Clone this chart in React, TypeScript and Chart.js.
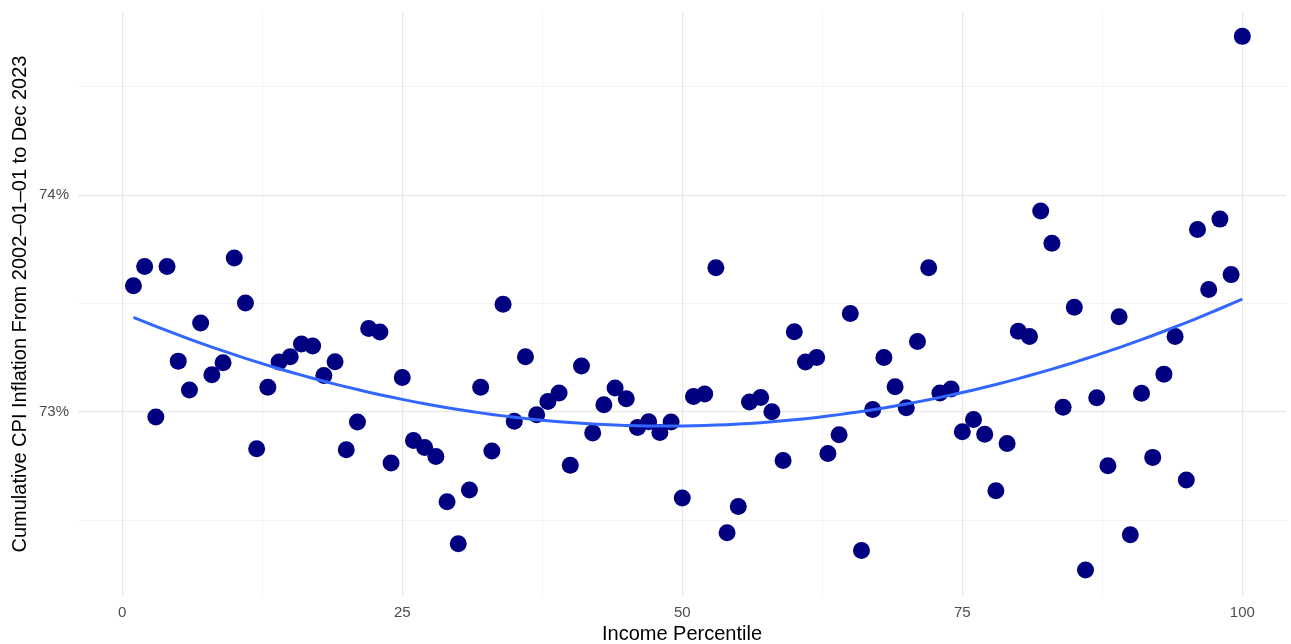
import React, { useEffect, useRef } from "react";
import { Chart, registerables } from "chart.js";

Chart.register(...registerables);

// Income percentiles (x) and cumulative CPI inflation in % (y)
const percentiles: number[] = [
  1, 2, 3, 4, 5, 6, 7, 8, 9, 10,
  11, 12, 13, 14, 15, 16, 17, 18, 19, 20,
  21, 22, 23, 24, 25, 26, 27, 28, 29, 30,
  31, 32, 33, 34, 35, 36, 37, 38, 39, 40,
  41, 42, 43, 44, 45, 46, 47, 48, 49, 50,
  51, 52, 53, 54, 55, 56, 57, 58, 59, 60,
  61, 62, 63, 64, 65, 66, 67, 68, 69, 70,
  71, 72, 73, 74, 75, 76, 77, 78, 79, 80,
  81, 82, 83, 84, 85, 86, 87, 88, 89, 90,
  91, 92, 93, 94, 95, 96, 97, 98, 99, 100,
];

const cumulativeInflation: number[] = [
  73.583, 73.671, 72.977, 73.671, 73.235, 73.102, 73.411, 73.172, 73.228, 73.711,
  73.503, 72.831, 73.114, 73.231, 73.255, 73.314, 73.305, 73.169, 73.232, 72.826,
  72.954, 73.386, 73.369, 72.765, 73.160, 72.869, 72.837, 72.795, 72.586, 72.393,
  72.641, 73.114, 72.820, 73.497, 72.958, 73.255, 72.988, 73.049, 73.088, 72.755,
  73.212, 72.904, 73.034, 73.111, 73.061, 72.929, 72.955, 72.906, 72.954, 72.604,
  73.072, 73.083, 73.666, 72.443, 72.564, 73.046, 73.067, 73.001, 72.777, 73.371,
  73.231, 73.252, 72.809, 72.895, 73.455, 72.361, 73.012, 73.252, 73.117, 73.020,
  73.325, 73.666, 73.088, 73.106, 72.909, 72.966, 72.898, 72.637, 72.855, 73.373,
  73.349, 73.927, 73.779, 73.022, 73.483, 72.272, 73.066, 72.752, 73.440, 72.434,
  73.087, 72.791, 73.175, 73.349, 72.687, 73.842, 73.565, 73.890, 73.634, 74.733,
];

const xTickValues: number[] = [0, 12.5, 25, 37.5, 50, 62.5, 75, 87.5, 100];
const xTickLabels: string[] = ["0", "", "25", "", "50", "", "75", "", "100"];
const yTickValues: number[] = [72.5, 73, 73.5, 74, 74.5];
const yTickLabels: string[] = ["", "73%", "", "74%", ""];

const xTitle = "Income Percentile";
const yTitle = "Cumulative CPI Inflation From 2002\u201301\u201301 to Dec 2023";

// Quadratic least-squares fit (the smoothing layer), derived from the data
function quadraticFit(xs: number[], ys: number[]) {
  let s0 = 0, s1 = 0, s2 = 0, s3 = 0, s4 = 0, t0 = 0, t1 = 0, t2 = 0;
  for (let i = 0; i < xs.length; i++) {
    const x = xs[i], y = ys[i];
    s0 += 1; s1 += x; s2 += x * x; s3 += x * x * x; s4 += x * x * x * x;
    t0 += y; t1 += x * y; t2 += x * x * y;
  }
  const A = [
    [s0, s1, s2, t0],
    [s1, s2, s3, t1],
    [s2, s3, s4, t2],
  ];
  for (let c = 0; c < 3; c++) {
    let p = c;
    for (let r = c + 1; r < 3; r++) if (Math.abs(A[r][c]) > Math.abs(A[p][c])) p = r;
    [A[c], A[p]] = [A[p], A[c]];
    for (let r = 0; r < 3; r++) {
      if (r === c) continue;
      const f = A[r][c] / A[c][c];
      for (let k = c; k < 4; k++) A[r][k] -= f * A[c][k];
    }
  }
  const c0 = A[0][3] / A[0][0];
  const c1 = A[1][3] / A[1][1];
  const c2 = A[2][3] / A[2][2];
  return (x: number) => c0 + c1 * x + c2 * x * x;
}

const FONT = "'Liberation Sans', Arial, Helvetica, sans-serif";

export default function App() {
  const canvasRef = useRef<HTMLCanvasElement | null>(null);

  useEffect(() => {
    if (!canvasRef.current) return;
    document.body.style.margin = "0";
    const fit = quadraticFit(percentiles, cumulativeInflation);
    const fitPoints = percentiles.map((x) => ({ x, y: fit(x) }));
    const scatterPoints = percentiles.map((x, i) => ({ x, y: cumulativeInflation[i] }));

    const chart = new Chart(canvasRef.current, {
      type: "scatter",
      data: {
        datasets: [
          {
            label: "fit",
            data: fitPoints,
            showLine: true,
            borderColor: "#3366FF",
            borderWidth: 3,
            pointRadius: 0,
            pointHoverRadius: 0,
            fill: false,
            tension: 0,
          } as any,
          {
            label: "points",
            data: scatterPoints,
            backgroundColor: "#000080",
            borderWidth: 0,
            pointRadius: 8.5,
            pointHoverRadius: 8.5,
          },
        ],
      },
      options: {
        animation: false,
        responsive: false,
        devicePixelRatio: 1,
        layout: { autoPadding: false, padding: { left: 0, right: 5, top: 11, bottom: 0 } },
        plugins: {
          legend: { display: false },
          tooltip: { enabled: false },
        },
        scales: {
          x: {
            type: "linear",
            min: -3.95,
            max: 103.9,
            afterBuildTicks: (scale: any) => {
              scale.ticks = xTickValues.map((v) => ({ value: v }));
            },
            afterFit: (scale: any) => {
              scale.height = 47;
              scale.paddingLeft = 0;
              scale.paddingRight = 0;
              scale.paddingTop = 0;
              scale.paddingBottom = 0;
            },
            border: { display: false },
            grid: {
              drawTicks: false,
              color: (ctx: any) =>
                ctx.tick && ctx.tick.value % 25 === 0 ? "#E8E8E8" : "#F0F0F0",
              lineWidth: (ctx: any) =>
                ctx.tick && ctx.tick.value % 25 === 0 ? 1.2 : 0.8,
            },
            ticks: {
              padding: 7,
              color: "#4D4D4D",
              font: { family: FONT, size: 15 },
              maxRotation: 0,
              autoSkip: false,
              callback: (_v: any, index: number) => xTickLabels[index],
            },
            title: {
              display: true,
              text: xTitle,
              color: "#000000",
              font: { family: FONT, size: 20, lineHeight: 1 },
              padding: { top: 0, bottom: 0 },
            },
          },
          y: {
            type: "linear",
            min: 72.147,
            max: 74.85,
            afterBuildTicks: (scale: any) => {
              scale.ticks = yTickValues.map((v) => ({ value: v }));
            },
            afterFit: (scale: any) => {
              scale.width = 78;
              scale.paddingLeft = 0;
              scale.paddingRight = 0;
              scale.paddingTop = 0;
              scale.paddingBottom = 0;
            },
            border: { display: false },
            grid: {
              drawTicks: false,
              color: (ctx: any) =>
                ctx.tick && Number.isInteger(ctx.tick.value) ? "#E8E8E8" : "#F0F0F0",
              lineWidth: (ctx: any) =>
                ctx.tick && Number.isInteger(ctx.tick.value) ? 1.2 : 0.8,
            },
            ticks: {
              padding: 9,
              color: "#4D4D4D",
              font: { family: FONT, size: 15 },
              autoSkip: false,
              callback: (_v: any, index: number) => yTickLabels[index],
            },
            title: {
              display: true,
              text: yTitle,
              color: "#000000",
              font: { family: FONT, size: 20, lineHeight: 1 },
              padding: { top: 10.5, bottom: 0 },
            },
          },
        },
      },
    });

    return () => {
      chart.destroy();
    };
  }, []);

  return (
    <div style={{ position: "fixed", left: 0, top: 0, width: 1291, height: 644, background: "#ffffff" }}>
      <canvas ref={canvasRef} width={1291} height={644} style={{ display: "block" }} />
    </div>
  );
}
